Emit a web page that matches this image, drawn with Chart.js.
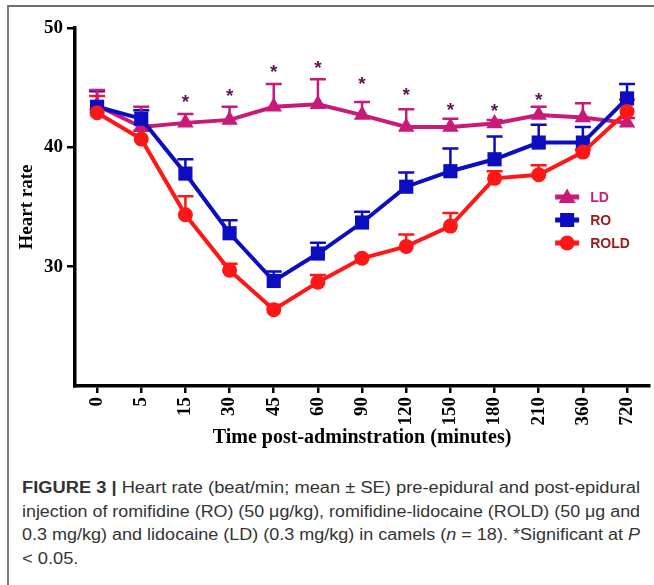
<!DOCTYPE html>
<html>
<head>
<meta charset="utf-8">
<script src="https://cdn.jsdelivr.net/npm/chart.js@4.4.1/dist/chart.umd.min.js"></script>
<style>
  html, body { margin: 0; padding: 0; background: #fff; }
  body { width: 654px; height: 585px; position: relative; overflow: hidden; }
  #frame { position: absolute; left: 7px; top: 5px; width: 660px; height: 600px;
           border-top: 2px solid #6f6f6f; border-left: 2px solid #7a7a7a; }
  #wrap { position: absolute; left: 0; top: 0; width: 654px; height: 460px; }
  #caption { position: absolute; left: 22px; top: 476px; font-family: "Liberation Sans", Arial, sans-serif;
             font-size: 16px; line-height: 23.5px; color: #333; white-space: nowrap; }
  #caption .ln { transform-origin: 0 50%; width: max-content; }
</style>
</head>
<body>
<div id="frame"></div>
<div id="wrap"><canvas id="hr" width="654" height="460"></canvas></div>
<div id="caption">
  <div class="ln fit"><b>FIGURE 3 |</b> Heart rate (beat/min; mean ± SE) pre-epidural and post-epidural</div>
  <div class="ln fit">injection of romifidine (RO) (50 μg/kg), romifidine-lidocaine (ROLD) (50 μg and</div>
  <div class="ln fit">0.3 mg/kg) and lidocaine (LD) (0.3 mg/kg) in camels (<i>n</i> = 18). *Significant at <i>P</i></div>
  <div class="ln">&lt; 0.05.</div>
</div>
<script>
// Time points (minutes)
const times = ['0', '5', '15', '30', '45', '60', '90', '120', '150', '180', '210', '360', '720'];

// Heart rate means
const ldMean   = [43.5, 41.7, 42.05, 42.3, 43.4, 43.6, 42.7, 41.7, 41.7, 42.0, 42.7, 42.5, 42.05];
const roMean   = [43.4, 42.4, 37.8, 32.8, 28.8, 31.1, 33.7, 36.7, 38.0, 39.0, 40.4, 40.4, 44.1];
const roldMean = [42.9, 40.7, 34.35, 29.7, 26.4, 28.7, 30.7, 31.7, 33.4, 37.4, 37.7, 39.6, 43.0];

// SE (drawn upward only)
const ldErr   = [1.3, 1.7, 0.75, 1.1, 1.9, 2.1, 1.1, 1.5, 0.7, 0.3, 0.7, 1.2, 0.4];
const roErr   = [1.3, 0.7, 1.2, 1.1, 0.8, 0.9, 0.9, 1.2, 1.9, 1.9, 1.5, 1.3, 1.2];
const roldErr = [1.4, 0.7, 1.55, 0.55, 0.4, 0.6, 0.2, 1.0, 1.1, 0.6, 0.8, 0.2, 1.0];

// Significance asterisks (y value where the * sits)
const sigMarks = [null, null, 44.06, 44.56, 46.57, 46.9, 45.56, 44.64, 43.39, 43.31, 44.23, null, null];

// Y axis
const yMin = 20, yMax = 50, yStep = 10;

const LD_COL = '#c81a78', RO_COL = '#0c0cc0', ROLD_COL = '#ff1717';
const serif = '"Liberation Serif", "Times New Roman", serif';
const sans = '"Liberation Sans", Arial, sans-serif';

// upward error bars, drawn under the markers
const errorBars = {
  id: 'errorBars',
  beforeDatasetsDraw(chart) {
    const { ctx } = chart;
    const y = chart.scales.y;
    chart.data.datasets.forEach((ds, i) => {
      if (!ds.errors) return;
      const meta = chart.getDatasetMeta(i);
      ctx.save();
      ctx.strokeStyle = ds.borderColor;
      ctx.lineWidth = 2.5;
      meta.data.forEach((pt, j) => {
        const top = y.getPixelForValue(ds.data[j] + ds.errors[j]);
        ctx.beginPath();
        ctx.moveTo(pt.x, pt.y);
        ctx.lineTo(pt.x, top);
        ctx.moveTo(pt.x - 8, top);
        ctx.lineTo(pt.x + 8, top);
        ctx.stroke();
      });
      ctx.restore();
    });
  }
};

// asterisks + legend
const extras = {
  id: 'extras',
  afterDatasetsDraw(chart) {
    const { ctx, chartArea } = chart;
    const x = chart.scales.x, y = chart.scales.y;
    ctx.save();
    ctx.fillStyle = '#5e1656';
    ctx.font = 'bold 19px ' + sans;
    ctx.textAlign = 'center';
    ctx.textBaseline = 'alphabetic';
    const m = ctx.measureText('*');
    const mid = (m.actualBoundingBoxAscent - m.actualBoundingBoxDescent) / 2;
    sigMarks.forEach((v, i) => {
      if (v == null) return;
      ctx.fillText('*', x.getPixelForValue(i), y.getPixelForValue(v) + mid);
    });
    ctx.restore();

    // legend
    const items = [
      { label: 'LD', color: LD_COL, text: '#c81f7c', shape: 'tri' },
      { label: 'RO', color: RO_COL, text: '#9c1a1a', shape: 'sq' },
      { label: 'ROLD', color: ROLD_COL, text: '#9c1a1a', shape: 'dot' }
    ];
    const lx = chartArea.right - 82, ly0 = chartArea.top + 169;
    items.forEach((it, k) => {
      const cy = ly0 + k * 23;
      ctx.save();
      ctx.strokeStyle = it.color;
      ctx.fillStyle = it.color;
      ctx.lineWidth = 5;
      ctx.beginPath();
      ctx.moveTo(lx - 12, cy);
      ctx.lineTo(lx + 12, cy);
      ctx.stroke();
      ctx.beginPath();
      if (it.shape === 'tri') {
        ctx.moveTo(lx, cy - 8.5);
        ctx.lineTo(lx + 8.5, cy + 6);
        ctx.lineTo(lx - 8.5, cy + 6);
        ctx.closePath();
      } else if (it.shape === 'sq') {
        ctx.rect(lx - 7, cy - 7, 14, 14);
      } else {
        ctx.arc(lx, cy, 7.5, 0, Math.PI * 2);
      }
      ctx.fill();
      ctx.fillStyle = it.text;
      ctx.font = 'bold 14px ' + sans;
      ctx.textBaseline = 'middle';
      ctx.textAlign = 'left';
      ctx.fillText(it.label, lx + 23, cy + 1);
      ctx.restore();
    });
  }
};

const series = (label, data, errors, color, style, radius) => ({
  label, data, errors,
  borderColor: color,
  backgroundColor: color,
  pointBackgroundColor: color,
  pointBorderColor: color,
  pointStyle: style,
  pointRadius: radius,
  pointBorderWidth: 0,
  borderWidth: 4,
  tension: 0,
  clip: false
});

new Chart(document.getElementById('hr'), {
  type: 'line',
  data: {
    labels: times,
    // first dataset is drawn on top
    datasets: [
      series('ROLD', roldMean, roldErr, ROLD_COL, 'circle', 7.5),
      series('RO', roMean, roErr, RO_COL, 'rect', 10),
      series('LD', ldMean, ldErr, LD_COL, 'triangle', 9.5)
    ]
  },
  options: {
    responsive: false,
    animation: false,
    layout: { autoPadding: false, padding: { top: 28, right: 4, left: 0, bottom: 0 } },
    plugins: { legend: { display: false }, tooltip: { enabled: false } },
    scales: {
      x: {
        offset: true,
        border: { color: '#000', width: 3.5 },
        grid: { drawOnChartArea: false, drawTicks: true, tickLength: 7, color: '#000', lineWidth: 2.5 },
        ticks: {
          autoSkip: false, minRotation: 90, maxRotation: 90, padding: 4, color: '#000',
          font: { family: serif, size: 19, weight: 'bold' }
        },
        title: {
          display: true, text: 'Time post-adminstration (minutes)', color: '#000',
          font: { family: serif, size: 20, weight: 'bold' }, padding: { top: 0, bottom: 10 }
        },
        afterFit: s => { s.height = 74; }
      },
      y: {
        min: yMin, max: yMax,
        border: { color: '#000', width: 3.5 },
        grid: {
          drawOnChartArea: false, drawTicks: true, tickLength: 8, lineWidth: 2.5,
          color: c => (c.tick && c.tick.value === yMin ? 'rgba(0,0,0,0)' : '#000')
        },
        ticks: {
          stepSize: yStep, padding: 4, color: '#000',
          font: { family: serif, size: 19, weight: 'bold' },
          callback: v => (v === yMin ? '' : v)
        },
        title: {
          display: true, text: 'Heart rate', color: '#000',
          font: { family: serif, size: 19, weight: 'bold' }, padding: { top: 16, bottom: 0 }
        },
        afterFit: s => { s.width = 75; }
      }
    }
  },
  plugins: [errorBars, extras]
});

// stretch caption lines to the column width
const colWidth = 618;
let firstScale = 1;
document.querySelectorAll('#caption .fit').forEach((el, i) => {
  const sc = colWidth / el.getBoundingClientRect().width;
  if (i === 0) firstScale = sc;
  el.style.transform = `scaleX(${sc})`;
});
document.querySelector('#caption .ln:not(.fit)').style.transform = `scaleX(${firstScale})`;
</script>
</body>
</html>
